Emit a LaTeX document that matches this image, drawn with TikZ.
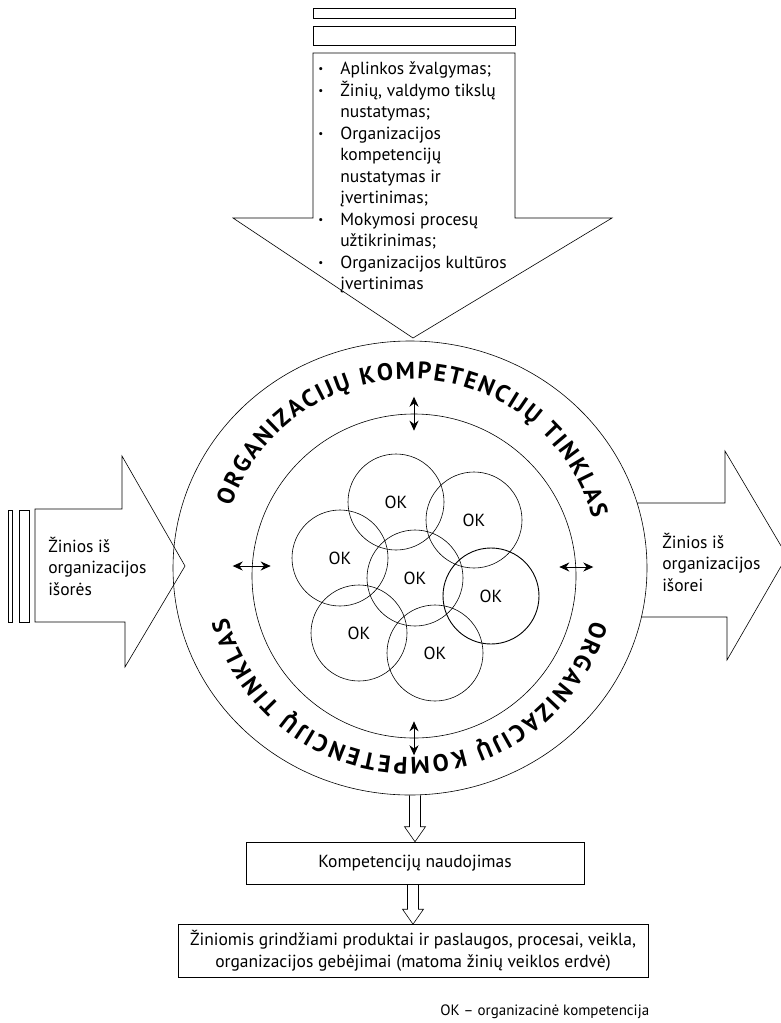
\documentclass[tikz,border=0pt]{standalone}
\usepackage{fontspec}
\setmainfont{PT Sans}
\usetikzlibrary{shapes.geometric,arrows.meta,decorations.text,calc}
\tikzset{
  okcirc/.style={draw,circle,minimum size=96pt,inner sep=0pt},
  box/.style={draw,rectangle,inner sep=0pt},
  dbl/.style={line width=0.9pt,{Stealth[length=10pt,width=9pt]}-{Stealth[length=10pt,width=9pt]}},
  ringtext/.style={decorate,decoration={text along path,text align=fit to path,
    text={|\bfseries\fontsize{24}{24}\selectfont|ORGANIZACIJŲ KOMPETENCIJŲ TINKLAS}}}
}
\newcommand{\hollowdown}[2]{%
  \draw let \p1=(#1), \p2=(#2) in
    (\x2-5.5pt,\y1) -- (\x2-5.5pt,\y2+15pt) -- (\x2-10.5pt,\y2+15pt) -- (\x2,\y2)
    -- (\x2+10.5pt,\y2+15pt) -- (\x2+5.5pt,\y2+15pt) -- (\x2+5.5pt,\y1);}
\newcommand{\dotmark}{\raisebox{2pt}{\fontsize{11}{11}\selectfont\textbullet}}

\begin{document}
\begin{tikzpicture}[x=1pt,y=-1pt,line width=0.6pt,font=\fontsize{17.5}{21.5}\selectfont]
\useasboundingbox (0,0) rectangle (780,1023);

\node[box,minimum width=202pt,minimum height=10pt] (b1) at (414,13.5) {};
\node[box,minimum width=202pt,minimum height=19pt] (b2) at (414,36) {};
\draw (313,53) -- (515,53) -- (515,218) -- (612,218) -- (413,338) -- (233,218) -- (313,218) -- cycle;
\node[anchor=north west,inner sep=0pt] (tasks) at (318,59) {%
  \begin{tabular}{@{}p{22pt}@{}l@{}}
  \dotmark & Aplinkos žvalgymas;\\
  \dotmark & Žinių, valdymo tikslų\\
   & nustatymas;\\
  \dotmark & Organizacijos\\
   & kompetencijų\\
   & nustatymas ir\\
   & įvertinimas;\\
  \dotmark & Mokymosi procesų\\
   & užtikrinimas;\\
  \dotmark & Organizacijos kultūros\\
   & įvertinimas
  \end{tabular}};

\node[draw,ellipse,minimum width=474pt,minimum height=454pt,inner sep=0pt] (net) at (410,568) {};
\node[draw,circle,minimum size=324pt,inner sep=0pt] (core) at (414,576) {};
\begin{scope}[shift={(net.center)},y=1pt]
\path[ringtext] (161:189) arc[start angle=161,end angle=15,radius=189];
\path[ringtext] (-16:189) arc[start angle=-16,end angle=-165,radius=189];
\end{scope}

\node[okcirc] (ok1) at (396,502) {OK};
\node[okcirc] (ok2) at (474,520) {OK};
\node[okcirc] (ok3) at (340,558) {OK};
\node[okcirc] (ok4) at (415,578) {OK};
\node[okcirc,line width=0.9pt] (ok5) at (491,596) {OK};
\node[okcirc] (ok6) at (359,633) {OK};
\node[okcirc] (ok7) at (435,653) {OK};

\draw[dbl] ($(core.north)+(0,-17)$) -- ($(core.north)+(0,17)$);
\draw[dbl] ($(core.south)+(0,-17)$) -- ($(core.south)+(0,17)$);
\draw[dbl] ($(core.west)+(-19,-10)$) -- ($(core.west)+(19,-10)$);
\draw[dbl] ($(core.east)+(-17,-9)$) -- ($(core.east)+(17,-9)$);

\draw (8,510) rectangle (12,622);
\draw (19,510) rectangle (29,622);
\draw (35,509) -- (122,509) -- (122,456) -- (185,566) -- (125,667) -- (125,622) -- (35,622) -- cycle;
\node[anchor=west,align=left,inner sep=0pt] (inflow) at (48,566) {Žinios iš\\organizacijos\\išorės};

\draw (637,503) -- (725,503) -- (725,451) -- (787,556) -- (727,660) -- (727,617) -- (641,617);
\node[anchor=west,align=left,inner sep=0pt] (outflow) at (662,562) {Žinios iš\\organizacijos\\išorei};

\node[box,minimum width=338pt,minimum height=42pt] (use) at (415,863) {Kompetencijų naudojimas};
\node[box,align=center,inner xsep=12pt,inner ysep=4pt,minimum height=53pt] (prod) at (413,951)
  {Žiniomis grindžiami produktai ir paslaugos, procesai, veikla,\\organizacijos gebėjimai (matoma žinių veiklos erdvė)};
\hollowdown{net.south}{use.north}
\hollowdown{use.south}{prod.north}

\node[anchor=west,inner sep=0pt,font=\fontsize{15}{18}\selectfont] (note) at (440,1012) {OK – organizacinė kompetencija};
\end{tikzpicture}
\end{document}
